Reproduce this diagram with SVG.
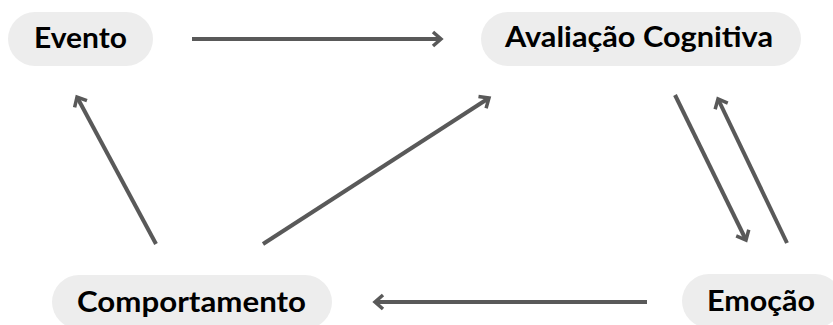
<svg xmlns="http://www.w3.org/2000/svg" width="833" height="325" viewBox="0 0 833 325">
<style>
.box{fill:#ededed;}
.lbl{font-family:Lato,"Open Sans","Liberation Sans",sans-serif;font-weight:bold;font-size:29px;fill:#000;text-anchor:middle;}
.edge{stroke:#595959;stroke-width:4;fill:none;marker-end:url(#arr);}
</style>
<defs>
<marker id="arr" markerUnits="userSpaceOnUse" markerWidth="20" markerHeight="20" viewBox="-12 -10 16 20" refX="0" refY="0" orient="auto">
<path d="M -8 -7 L 0 0 L -8 7" fill="none" stroke="#595959" stroke-width="3.5" stroke-linejoin="miter"/>
</marker>
</defs>
<rect width="833" height="325" fill="#fff"/>
<g id="connectors">
<line class="edge" x1="192" y1="39" x2="441" y2="39"/>
<line class="edge" x1="675" y1="95" x2="746" y2="240"/>
<line class="edge" x1="787" y1="243" x2="718" y2="99"/>
<line class="edge" x1="647" y1="302" x2="375" y2="302"/>
<line class="edge" x1="156" y1="244" x2="77" y2="97"/>
<line class="edge" x1="263" y1="244" x2="489" y2="98"/>
</g>
<g id="evento">
<rect class="box" x="8" y="12" width="145" height="54" rx="27"/>
<text class="lbl" x="80.5" y="47.5" textLength="93" lengthAdjust="spacingAndGlyphs">Evento</text>
</g>
<g id="avaliacao">
<rect class="box" x="481" y="12" width="320" height="54" rx="27"/>
<text class="lbl" x="639" y="47" textLength="268" lengthAdjust="spacingAndGlyphs">Avaliação Cognitiva</text>
</g>
<g id="comportamento">
<rect class="box" x="52" y="275" width="280" height="54" rx="27"/>
<text class="lbl" x="191.5" y="311.5" textLength="229" lengthAdjust="spacingAndGlyphs">Comportamento</text>
</g>
<g id="emocao">
<rect class="box" x="682" y="274" width="160" height="54" rx="27"/>
<text class="lbl" x="761" y="311" textLength="108" lengthAdjust="spacingAndGlyphs">Emoção</text>
</g>
</svg>
